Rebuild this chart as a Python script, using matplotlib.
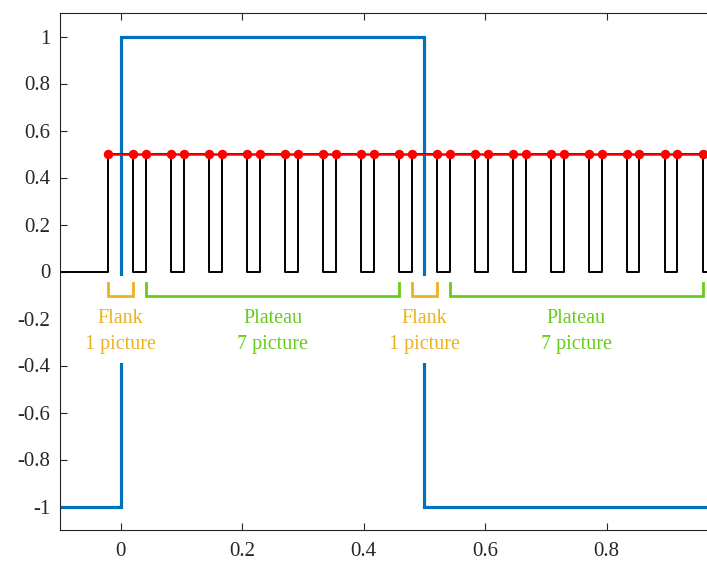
import matplotlib.pyplot as plt

# camera frames: rise and fall times of each exposure pulse
pulse_on = [-0.0208, 0.0417, 0.1042, 0.1667, 0.2292, 0.2917, 0.3542, 0.4167,
            0.4792, 0.5417, 0.6042, 0.6667, 0.7292, 0.7917, 0.8542, 0.9167]
pulse_off = [0.0208, 0.0833, 0.1458, 0.2083, 0.2708, 0.3333, 0.3958, 0.4583,
             0.5208, 0.5833, 0.6458, 0.7083, 0.7708, 0.8333, 0.8958, 0.9583]
pulse_level = 0.5

# square wave
wave_edges = [-0.1, 0.0, 0.5, 1.0]
wave_levels = [-1, 1, -1]

# annotation brackets
flank_spans = [(-0.0208, 0.0208), (0.4792, 0.5208)]
plateau_spans = [(0.0417, 0.4583), (0.5417, 0.9583)]
flank_text = "Flank\n1 picture"
plateau_text = "Plateau\n7 picture"

xticks = [0, 0.2, 0.4, 0.6, 0.8]
yticks = [-1, -0.8, -0.6, -0.4, -0.2, 0, 0.2, 0.4, 0.6, 0.8, 1]

BLUE = (0.0, 0.447, 0.741)
ORANGE = (0.929, 0.694, 0.125)
GREEN = "#66cc1a"
AXCOL = (0.15, 0.15, 0.15)

plt.rcParams["font.family"] = ["Liberation Serif", "DejaVu Serif"]

fig = plt.figure(figsize=(7.07, 5.63), dpi=100)
ax = fig.add_axes([60 / 707, 33 / 563, 668 / 707, 517 / 563])

ax.stairs(wave_levels, wave_edges, color=BLUE, linewidth=2.3, baseline=None, zorder=1.8)

# pulse train as a step line
px, py = [wave_edges[0]], [0]
for on, off in zip(pulse_on, pulse_off):
    px += [on, on, off, off]
    py += [0, pulse_level, pulse_level, 0]
px.append(wave_edges[-1])
py.append(0)
ax.plot(px, py, color="black", linewidth=1.4, zorder=2.6)

dots = sorted(pulse_on + pulse_off)
ax.plot(dots, [pulse_level] * len(dots), "-o", color="red", linewidth=1.8,
        markersize=5.8, zorder=3)

# white band behind the labels
ax.axhspan(-0.39, -0.02, color="white", zorder=2.2, linewidth=0)

top, bot = -0.05, -0.105
for spans, col, label in [(flank_spans, ORANGE, flank_text),
                          (plateau_spans, GREEN, plateau_text)]:
    for a, b in spans:
        ax.plot([a, a, b, b], [top, bot, bot, top], color=col, linewidth=2,
                solid_joinstyle="miter", zorder=4)
        ax.text((a + b) / 2, -0.255, label, color=col, fontsize=14.5,
                ha="center", va="center", linespacing=1.45, zorder=4)

ax.set_xlim(wave_edges[0], wave_edges[-1])
ax.set_ylim(-1.1, 1.1)
ax.set_xticks(xticks)
ax.set_xticklabels([f"{v:g}" for v in xticks])
ax.set_yticks(yticks)
ax.set_yticklabels([f"{v:g}" for v in yticks])
ax.tick_params(direction="in", length=5, width=0.8, colors=AXCOL,
               labelsize=15, top=True, right=True)
ax.tick_params(axis="x", pad=9)
ax.tick_params(axis="y", pad=7)
for s in ax.spines.values():
    s.set_color(AXCOL)
    s.set_linewidth(0.8)

fig.savefig("out.png", dpi=100)
